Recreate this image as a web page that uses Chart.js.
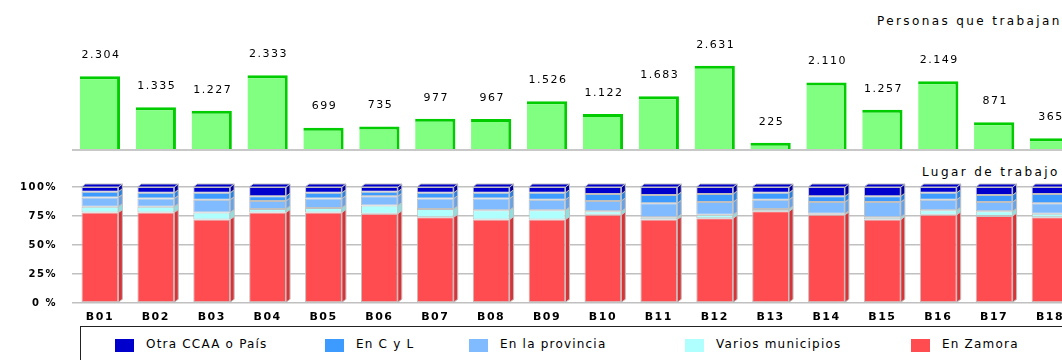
<!DOCTYPE html>
<html>
<head>
<meta charset="utf-8">
<script src="https://cdn.jsdelivr.net/npm/chart.js@4/dist/chart.umd.min.js"></script>
<style>
html, body { margin: 0; padding: 0; background: #fff; overflow: hidden; }
#wrap { position: relative; width: 1062px; height: 360px; overflow: hidden; font-family: "DejaVu Sans", sans-serif; color: #000; }
.title { position: absolute; font-size: 12px; letter-spacing: 2.4px; white-space: nowrap; line-height: 14px; }
#topBox { position: absolute; left: 0; top: 0; width: 1080px; height: 160px; }
#botBox { position: absolute; left: 0; top: 160px; width: 1080px; height: 166px; }
#legend { position: absolute; left: 80px; top: 326px; width: 1100px; height: 60px; border: 1.5px solid #222; }
.item { position: absolute; top: 10px; height: 14px; white-space: nowrap; font-size: 12px; letter-spacing: 1.2px; line-height: 14px; }
.sw { display: inline-block; width: 19px; height: 13px; vertical-align: top; margin-top: 2px; margin-right: 12px; }
</style>
</head>
<body>
<div id="wrap">
  <div class="title" style="left:877px;top:14px">Personas que trabajan</div>
  <div class="title" style="left:922px;top:165px">Lugar de trabajo</div>
  <div id="topBox"><canvas id="top"></canvas></div>
  <div id="botBox"><canvas id="bot"></canvas></div>
  <div id="legend"></div>
</div>
<script>
const categories = ['B01','B02','B03','B04','B05','B06','B07','B08','B09','B10','B11','B12','B13','B14','B15','B16','B17','B18'];
const personas = [2304,1335,1227,2333,699,735,977,967,1526,1122,1683,2631,225,2110,1257,2149,871,365];

// lugar de trabajo, % por barrio
const enZamora         = [78,78,72,78,78,77,74,72,72,76,72,73,79,76,72,76,75,74];
const variosMunicipios = [5,5,6,3,4,7,7,8,8,3,2,3,2,1,2,4,4,3];
const enProvincia      = [8,7,11,7,8,8,9,10,9,9,12,11,8,10,13,9,8,9];
const enCyL            = [5,5,6,4,5,4,5,5,6,6,7,7,6,5,5,6,6,8];
const otraCCAA         = [4,5,5,8,5,4,5,5,5,6,7,6,5,8,8,5,7,6];

const pctTicks = [0,25,50,75,100];

const series = [
  {label:'En Zamora',         data:enZamora,         color:'#ff4c50', side:'#d83438'},
  {label:'Varios municipios', data:variosMunicipios, color:'#b0ffff', side:'#8ee0e0'},
  {label:'En la provincia',   data:enProvincia,      color:'#80bbff', side:'#6aa2e6'},
  {label:'En C y L',          data:enCyL,            color:'#3d9bff', side:'#2a80e0'},
  {label:'Otra CCAA o País',  data:otraCCAA,         color:'#0000cc', side:'#0000a0'}
];

function miles(n) {
  return String(n).replace(/\B(?=(\d{3})+(?!\d))/g, '.')
}

const spacing = {
  id: 'spacing',
  beforeDraw(chart) { chart.ctx.letterSpacing = '1.5px' }
}

const valueLabels = {
  id: 'valueLabels',
  afterDatasetsDraw(chart) {
    const ctx = chart.ctx
    const meta = chart.getDatasetMeta(0)
    ctx.save()
    ctx.font = '11px "DejaVu Sans"'
    ctx.fillStyle = '#000'
    ctx.textAlign = 'center'
    ctx.textBaseline = 'middle'
    meta.data.forEach((el, i) => {
      ctx.fillText(miles(personas[i]), el.x + 1, el.y - 21)
    })
    ctx.restore()
  }
}

// cara lateral y superior para el efecto 3D de las barras apiladas
const sides3d = {
  id: 'sides3d',
  afterDatasetsDraw(chart) {
    const ctx = chart.ctx
    const d = 4, h = 3
    ctx.save()
    ctx.strokeStyle = '#c0c0c0'
    ctx.lineWidth = 1
    chart.data.datasets.forEach((ds, di) => {
      const meta = chart.getDatasetMeta(di)
      meta.data.forEach(el => {
        const p = el.getProps(['x','y','base','width'], true)
        const r = p.x + p.width / 2, l = p.x - p.width / 2
        ctx.fillStyle = series[di].side
        ctx.beginPath()
        ctx.moveTo(r, p.y); ctx.lineTo(r + d, p.y - h); ctx.lineTo(r + d, p.base - h); ctx.lineTo(r, p.base)
        ctx.closePath(); ctx.fill(); ctx.stroke()
        if (di === chart.data.datasets.length - 1) {
          ctx.fillStyle = series[di].color
          ctx.beginPath()
          ctx.moveTo(l, p.y); ctx.lineTo(l + d, p.y - h); ctx.lineTo(r + d, p.y - h); ctx.lineTo(r, p.y)
          ctx.closePath(); ctx.fill(); ctx.stroke()
        }
      })
    })
    ctx.restore()
  }
}

new Chart(document.getElementById('top'), {
  type: 'bar',
  data: {
    labels: categories,
    datasets: [{
      data: personas,
      backgroundColor: '#80ff80',
      borderColor: '#00cc00',
      borderWidth: {top: 3, right: 3, left: 0, bottom: 0},
      borderSkipped: false,
      barPercentage: 0.72,
      categoryPercentage: 1
    }]
  },
  options: {
    responsive: true,
    maintainAspectRatio: false,
    animation: false,
    layout: {padding: {top: 54, right: 2, left: 0, bottom: 0}},
    plugins: {legend: {display: false}, tooltip: {enabled: false}},
    scales: {
      x: {
        grid: {display: false, drawTicks: false},
        border: {display: false},
        ticks: {display: false},
        afterFit: s => { s.height = 10 }
      },
      y: {
        min: 0, max: 3000,
        ticks: {display: false},
        grid: {color: c => c.tick.value === 0 ? '#c8c8c8' : 'transparent', drawTicks: false, lineWidth: 2},
        border: {display: false},
        afterFit: s => { s.width = 72 }
      }
    }
  },
  plugins: [spacing, valueLabels]
})

new Chart(document.getElementById('bot'), {
  type: 'bar',
  data: {
    labels: categories,
    datasets: series.map(s => ({
      label: s.label,
      data: s.data,
      backgroundColor: s.color,
      borderColor: '#c0c0c0',
      borderWidth: 1,
      borderSkipped: false,
      barPercentage: 0.66,
      categoryPercentage: 1
    }))
  },
  options: {
    responsive: true,
    maintainAspectRatio: false,
    animation: false,
    layout: {padding: {top: 27, right: 2, left: 0, bottom: 0}},
    plugins: {legend: {display: false}, tooltip: {enabled: false}},
    scales: {
      x: {
        stacked: true,
        grid: {display: false, drawTicks: false},
        border: {display: false},
        ticks: {color: '#000', font: {family: 'DejaVu Sans', size: 11, weight: 'bold'}, padding: 8, maxRotation: 0},
        afterFit: s => { s.height = 23 }
      },
      y: {
        stacked: true,
        min: 0, max: 100,
        afterBuildTicks: s => { s.ticks = pctTicks.map(v => ({value: v})) },
        ticks: {
          color: '#000',
          font: {family: 'DejaVu Sans', size: 10, weight: 'bold'},
          padding: 15,
          callback: v => v === 0 ? '0 %' : v + '%'
        },
        grid: {color: '#c0c0c0', drawTicks: false, lineWidth: 1.5},
        border: {display: false},
        afterFit: s => { s.width = 72 }
      }
    }
  },
  plugins: [spacing, sides3d]
})

// leyenda (mismo orden que la original)
const legendPos = [34, 244, 388, 604, 830]
const legendEl = document.getElementById('legend')
series.slice().reverse().forEach((s, i) => {
  const item = document.createElement('div')
  item.className = 'item'
  item.style.left = legendPos[i] + 'px'
  item.innerHTML = '<span class="sw" style="background:' + s.color + '"></span>' + s.label
  legendEl.appendChild(item)
})
</script>
</body>
</html>
